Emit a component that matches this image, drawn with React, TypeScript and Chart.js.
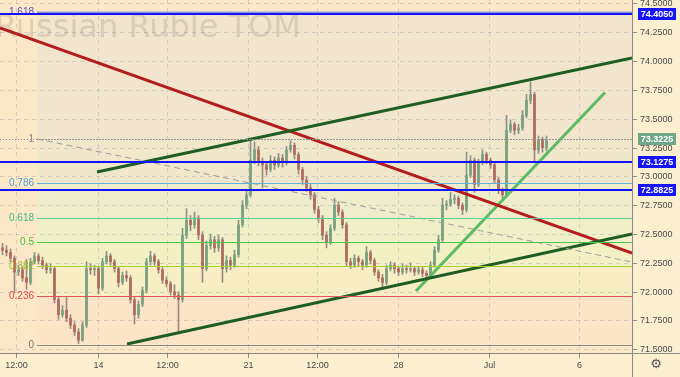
import React, { useEffect, useRef } from 'react';
import { Chart, registerables } from 'chart.js';

Chart.register(...registerables);

// ---- axis ticks ----
const xTickValues = [3.375, 23.775, 41.125, 61.375, 78.525, 98.875, 121.55, 144.125];
const xTickLabels = ['12:00', '14', '12:00', '21', '12:00', '28', 'Jul', '6'];
const yTickValues = [71.5, 71.75, 72, 72.25, 72.5, 72.75, 73, 73.25, 73.5, 73.75, 74, 74.25, 74.5];

// ---- candles (OHLC) ----
const opens = [
  72.38, 72.36, 72.34, 72.29, 72.17, 72.19, 72.12, 72.08, 72.26, 72.31, 72.27, 72.23, 72.19, 72.20, 71.93, 71.80, 71.84, 71.77, 71.71, 71.65, 71.58, 71.71, 72.20, 72.19, 72.20, 72.03, 72.26, 72.31,
  72.26, 72.20, 72.08, 72.14, 72.12, 71.93, 71.80, 71.89, 72.01, 72.26, 72.31, 72.26, 72.19, 72.10, 72.07, 72.00, 71.97, 71.93, 72.49, 72.62, 72.58, 72.64, 72.49, 72.20, 72.40, 72.45, 72.38,
  72.45, 72.20, 72.27, 72.23, 72.32, 72.58, 72.75, 72.84, 73.14, 73.23, 73.12, 73.10, 73.06, 73.14, 73.10, 73.16, 73.12, 73.23, 73.27, 73.19, 73.06, 72.97, 72.90, 72.84, 72.71, 72.64, 72.49, 72.43,
  72.55, 72.75, 72.69, 72.58, 72.26, 72.23, 72.29, 72.26, 72.23, 72.34, 72.27, 72.17, 72.12, 72.08, 72.20, 72.23, 72.20, 72.17, 72.20, 72.19, 72.20, 72.17, 72.19, 72.16, 72.14, 72.23, 72.36, 72.45,
  72.75, 72.76, 72.80, 72.81, 72.75, 72.71, 73.01, 73.14, 72.93, 73.12, 73.19, 73.14, 73.10, 72.97, 72.88, 72.84, 73.40, 73.45, 73.40, 73.42, 73.53, 73.66, 73.71, 73.23, 73.32, 73.25,
];
const highs = [
  72.42, 72.40, 72.37, 72.31, 72.23, 72.21, 72.28, 72.29, 72.34, 72.33, 72.30, 72.25, 72.24, 72.22, 71.96, 71.88, 71.95, 71.80, 71.74, 71.68, 71.74, 72.26, 72.24, 72.23, 72.22, 72.29, 72.35, 72.33,
  72.28, 72.22, 72.17, 72.18, 72.14, 71.95, 71.92, 72.04, 72.29, 72.35, 72.33, 72.28, 72.21, 72.13, 72.09, 72.06, 72.00, 72.55, 72.72, 72.66, 72.69, 72.66, 72.52, 72.44, 72.50, 72.48, 72.49,
  72.47, 72.31, 72.30, 72.36, 72.62, 72.79, 72.88, 73.32, 73.30, 73.26, 73.16, 73.13, 73.18, 73.17, 73.20, 73.19, 73.26, 73.31, 73.29, 73.21, 73.08, 73.00, 72.93, 72.86, 72.74, 72.66, 72.52, 72.58,
  72.81, 72.78, 72.71, 72.60, 72.29, 72.32, 72.31, 72.28, 72.39, 72.36, 72.29, 72.19, 72.15, 72.23, 72.26, 72.25, 72.22, 72.24, 72.23, 72.25, 72.22, 72.22, 72.21, 72.18, 72.26, 72.39, 72.49, 72.81,
  72.79, 72.86, 72.84, 72.83, 72.77, 73.21, 73.18, 73.16, 73.15, 73.23, 73.21, 73.16, 73.12, 72.99, 72.90, 73.53, 73.49, 73.47, 73.45, 73.57, 73.71, 73.82, 73.73, 73.35, 73.34, 73.35,
];
const lows = [
  72.32, 72.31, 72.26, 71.99, 72.14, 72.09, 72.02, 72.06, 72.24, 72.24, 72.20, 72.16, 72.16, 71.90, 71.76, 71.78, 71.74, 71.68, 71.62, 71.55, 71.57, 71.69, 72.15, 72.14, 71.98, 72.01, 72.24, 72.23,
  72.17, 72.04, 72.06, 72.09, 71.90, 71.72, 71.77, 71.87, 71.99, 72.23, 72.23, 72.16, 72.07, 72.04, 71.97, 71.94, 71.65, 71.91, 72.46, 72.53, 72.55, 72.45, 72.08, 72.18, 72.37, 72.34, 72.35,
  72.08, 72.17, 72.19, 72.21, 72.30, 72.56, 72.72, 72.82, 73.11, 73.09, 72.90, 73.01, 73.04, 73.06, 73.08, 73.08, 73.10, 73.21, 73.15, 73.02, 72.93, 72.87, 72.80, 72.68, 72.60, 72.45, 72.38, 72.41,
  72.53, 72.66, 72.55, 72.22, 72.20, 72.21, 72.22, 72.19, 72.21, 72.24, 72.14, 72.09, 72.04, 72.06, 72.18, 72.16, 72.14, 72.15, 72.16, 72.17, 72.14, 72.15, 72.13, 72.10, 72.12, 72.21, 72.34, 72.43,
  72.71, 72.74, 72.76, 72.72, 72.67, 72.69, 72.99, 72.86, 72.91, 73.10, 73.11, 73.07, 72.94, 72.85, 72.81, 72.82, 73.38, 73.36, 73.37, 73.40, 73.51, 73.63, 73.12, 73.20, 73.21, 73.22,
];
const closes = [
  72.36, 72.34, 72.29, 72.17, 72.19, 72.12, 72.08, 72.26, 72.31, 72.27, 72.23, 72.19, 72.20, 71.93, 71.80, 71.84, 71.77, 71.71, 71.65, 71.58, 71.71, 72.20, 72.19, 72.20, 72.03, 72.26, 72.31, 72.26,
  72.20, 72.08, 72.14, 72.12, 71.93, 71.80, 71.89, 72.01, 72.26, 72.31, 72.26, 72.19, 72.10, 72.07, 72.00, 71.97, 71.93, 72.49, 72.62, 72.58, 72.64, 72.49, 72.20, 72.40, 72.45, 72.38, 72.45,
  72.20, 72.27, 72.23, 72.32, 72.58, 72.75, 72.84, 73.14, 73.23, 73.12, 73.10, 73.06, 73.14, 73.10, 73.16, 73.12, 73.23, 73.27, 73.19, 73.06, 72.97, 72.90, 72.84, 72.71, 72.64, 72.49, 72.43, 72.55,
  72.75, 72.69, 72.58, 72.26, 72.23, 72.29, 72.26, 72.23, 72.34, 72.27, 72.17, 72.12, 72.08, 72.20, 72.23, 72.20, 72.17, 72.20, 72.19, 72.20, 72.17, 72.19, 72.16, 72.14, 72.23, 72.36, 72.45, 72.75,
  72.76, 72.80, 72.81, 72.75, 72.71, 73.01, 73.14, 72.93, 73.12, 73.19, 73.14, 73.10, 72.97, 72.88, 72.84, 73.40, 73.45, 73.40, 73.42, 73.53, 73.66, 73.71, 73.23, 73.32, 73.25, 73.3225,
];

// ---- Fibonacci retracement ----
const fibLevels = [0, 0.236, 0.382, 0.5, 0.618, 0.786, 1, 1.618];
const fibLabels = ['0', '0.236', '0.382', '0.5', '0.618', '0.786', '1', '1.618'];
const fibPrice0 = 71.537;
const fibPrice1 = 73.325;
const fibStartX = 8.625;

// ---- horizontal key levels ----
const keyLevels = [74.405, 73.1275, 72.8825];
const keyLevelLabels = ['74.4050', '73.1275', '72.8825'];
const lastPrice = 73.3225;
const lastPriceLabel = '73.3225';

// ---- trend lines (x in candle index units, y in price) ----
const upperChannel = [{ x: 23.625, y: 73.038 }, { x: 157.375, y: 74.027 }];
const lowerChannel = [{ x: 31.125, y: 71.546 }, { x: 157.375, y: 72.5 }];
const redTrend = [{ x: -0.625, y: 74.2875 }, { x: 157.375, y: 72.3355 }];
const greenTrend = [{ x: 103.375, y: 72.006 }, { x: 150.625, y: 73.728 }];
const dashedTrend = [{ x: 8.625, y: 73.325 }, { x: 157.375, y: 72.257 }];

const title = 'Russian Ruble TOM';

// ---- styles ----
const BG_AXES = '#fcefd0';
const BG_PLOT = '#fce8c6';
const fibBandColors = ['#fce4c6', '#f8eec4', '#f3f1c4', '#eff0c7', '#eeeccb', '#f1e8cc', '#f1e5cd'];
const fibLineColors = ['#8c8c8c', '#e05555', '#a6cf3c', '#4fc64f', '#5ccf9a', '#5fb0de', '#9a9a9a', '#9595dc'];
const fibTextColors = ['#777777', '#e04848', '#97c22a', '#3fbf3f', '#3cb98a', '#4a9fd8', '#888888', '#5050c8'];
const SMALL_FONT = '9px "Liberation Sans", Arial, sans-serif';
const FIB_FONT = '10px "Liberation Sans", Arial, sans-serif';

const decorPlugin = {
  id: 'decor',
  beforeDraw(chart: any) {
    const { ctx, chartArea: a, scales } = chart;
    const x = scales.x, y = scales.y;
    const W = chart.width, H = chart.height;
    ctx.save();
    ctx.fillStyle = BG_AXES;
    ctx.fillRect(0, 0, W, H);
    ctx.fillStyle = BG_PLOT;
    ctx.fillRect(a.left, a.top, a.right - a.left, a.bottom - a.top);
    const fx = x.getPixelForValue(fibStartX);
    const lp = (l: number) => fibPrice0 + l * (fibPrice1 - fibPrice0);
    for (let k = 0; k < fibLevels.length - 1; k++) {
      const y0 = y.getPixelForValue(lp(fibLevels[k]));
      const y1 = y.getPixelForValue(lp(fibLevels[k + 1]));
      ctx.fillStyle = fibBandColors[k];
      ctx.fillRect(fx, y1, a.right - fx, y0 - y1);
    }
    // dashed grid
    ctx.strokeStyle = 'rgba(150,150,175,0.35)';
    ctx.lineWidth = 1;
    ctx.setLineDash([4, 4]);
    yTickValues.forEach((v) => {
      const py = Math.round(y.getPixelForValue(v)) + 0.5;
      ctx.beginPath(); ctx.moveTo(a.left, py); ctx.lineTo(a.right, py); ctx.stroke();
    });
    xTickValues.forEach((v) => {
      const px = Math.round(x.getPixelForValue(v)) + 0.5;
      ctx.beginPath(); ctx.moveTo(px, a.top); ctx.lineTo(px, a.bottom); ctx.stroke();
    });
    ctx.setLineDash([]);
    // watermark
    ctx.font = '32px "DejaVu Sans", sans-serif';
    ctx.fillStyle = 'rgba(110,100,90,0.19)';
    ctx.textBaseline = 'alphabetic';
    ctx.textAlign = 'left';
    ctx.fillText(title, -5, 37);
    ctx.restore();
  },
  afterDatasetsDraw(chart: any) {
    const { ctx, chartArea: a, scales } = chart;
    const x = scales.x, y = scales.y;
    const W = chart.width, H = chart.height;
    const lp = (l: number) => fibPrice0 + l * (fibPrice1 - fibPrice0);
    const fx = x.getPixelForValue(fibStartX);
    ctx.save();
    // fib lines + labels
    fibLevels.forEach((l, k) => {
      const py = Math.round(y.getPixelForValue(lp(l))) + 0.5;
      ctx.strokeStyle = fibLineColors[k];
      ctx.lineWidth = l === 1.618 ? 2 : 1;
      ctx.setLineDash(l === 1 ? [1, 2] : []);
      ctx.beginPath(); ctx.moveTo(fx, py); ctx.lineTo(a.right, py); ctx.stroke();
      ctx.setLineDash([]);
      ctx.font = FIB_FONT;
      ctx.fillStyle = fibTextColors[k];
      ctx.textAlign = 'right';
      ctx.textBaseline = 'middle';
      ctx.fillText(fibLabels[k], fx - 3, py);
    });
    // last price dotted line
    const lpY = Math.round(y.getPixelForValue(lastPrice)) + 0.5;
    ctx.strokeStyle = '#8a8a8a';
    ctx.lineWidth = 1;
    ctx.setLineDash([1, 2]);
    ctx.beginPath(); ctx.moveTo(a.left, lpY); ctx.lineTo(a.right, lpY); ctx.stroke();
    ctx.setLineDash([]);
    // key blue levels
    ctx.strokeStyle = '#1414ff';
    ctx.lineWidth = 2;
    keyLevels.forEach((v) => {
      const py = Math.round(y.getPixelForValue(v));
      ctx.beginPath(); ctx.moveTo(a.left, py); ctx.lineTo(a.right, py); ctx.stroke();
    });
    // axis lines
    ctx.strokeStyle = '#8a8a8a';
    ctx.lineWidth = 1;
    ctx.beginPath(); ctx.moveTo(a.right + 0.5, 0); ctx.lineTo(a.right + 0.5, H); ctx.stroke();
    ctx.beginPath(); ctx.moveTo(0, a.bottom + 0.5); ctx.lineTo(W, a.bottom + 0.5); ctx.stroke();
    // y ticks + labels
    ctx.font = SMALL_FONT;
    ctx.fillStyle = '#4a4a4a';
    ctx.textAlign = 'left';
    ctx.textBaseline = 'middle';
    yTickValues.forEach((v) => {
      const py = Math.round(y.getPixelForValue(v)) + 0.5;
      ctx.beginPath(); ctx.moveTo(a.right + 1, py); ctx.lineTo(a.right + 5, py); ctx.stroke();
      ctx.fillText(v.toFixed(4), a.right + 8, py);
    });
    // x ticks + labels
    ctx.textAlign = 'center';
    xTickValues.forEach((v, i) => {
      const px = Math.round(x.getPixelForValue(v)) + 0.5;
      ctx.beginPath(); ctx.moveTo(px, a.bottom + 1); ctx.lineTo(px, a.bottom + 5); ctx.stroke();
      ctx.fillText(xTickLabels[i], px, a.bottom + 13);
    });
    // price label boxes
    const box = (v: number, text: string, color: string) => {
      const py = y.getPixelForValue(v);
      ctx.fillStyle = color;
      ctx.fillRect(a.right + 6, Math.round(py) - 6, 38, 12);
      ctx.fillStyle = '#ffffff';
      ctx.font = 'bold ' + SMALL_FONT;
      ctx.textAlign = 'center';
      ctx.textBaseline = 'middle';
      ctx.fillText(text, a.right + 25, Math.round(py) + 0.5);
    };
    keyLevels.forEach((v, i) => box(v, keyLevelLabels[i], '#1414ff'));
    box(lastPrice, lastPriceLabel, '#6ea888');
    // gear icon
    ctx.fillStyle = '#555555';
    ctx.font = '13px "DejaVu Sans", sans-serif';
    ctx.textAlign = 'center';
    ctx.textBaseline = 'middle';
    ctx.fillText('\u2699', a.right + 24, a.bottom + 12);
    ctx.restore();
  },
};

export default function App() {
  const ref = useRef<HTMLCanvasElement | null>(null);
  useEffect(() => {
    if (!ref.current) return;
    const idx = closes.map((_, i) => i);
    const up = idx.map((i) => closes[i] >= opens[i]);
    const lineDs = (data: any[], color: string, width: number, dash: number[] = []) => ({
      type: 'line' as const,
      data,
      borderColor: color,
      borderWidth: width,
      borderDash: dash,
      pointRadius: 0,
      fill: false,
      tension: 0,
      order: 1,
    });
    const chart = new Chart(ref.current, {
      type: 'bar',
      data: {
        datasets: [
          {
            type: 'bar',
            data: idx.map((i) => ({ x: i, y: [lows[i], highs[i]] })) as any,
            backgroundColor: idx.map((i) => (up[i] ? '#87968a' : '#9c8a82')),
            barThickness: 1,
            grouped: false,
            order: 11,
          } as any,
          {
            type: 'bar',
            data: idx.map((i) => ({ x: i, y: [opens[i], closes[i]] })) as any,
            backgroundColor: idx.map((i) => (up[i] ? '#78a07e' : '#b0675c')),
            barThickness: 2,
            minBarLength: 1,
            grouped: false,
            order: 10,
          } as any,
          lineDs(dashedTrend, '#9e9e9e', 1, [6, 4]),
          lineDs(upperChannel, '#1e5e22', 3),
          lineDs(lowerChannel, '#1e5e22', 3),
          lineDs(redTrend, '#b31d1d', 3),
          lineDs(greenTrend, '#5dbb63', 3),
        ],
      },
      options: {
        animation: false,
        responsive: false,
        devicePixelRatio: 1,
        events: [],
        layout: { padding: 0 },
        plugins: { legend: { display: false }, tooltip: { enabled: false } },
        scales: {
          x: {
            type: 'linear',
            min: -0.625,
            max: 157.375,
            offset: false,
            grid: { display: false },
            border: { display: false },
            ticks: { display: false },
            afterFit: (s: any) => { s.height = 24; },
          },
          y: {
            type: 'linear',
            position: 'right',
            min: 71.468,
            max: 74.53,
            grid: { display: false },
            border: { display: false },
            ticks: { display: false },
            afterFit: (s: any) => { s.width = 48; },
          },
        },
      } as any,
      plugins: [decorPlugin],
    });
    return () => chart.destroy();
  }, []);
  return (
    <div style={{ position: 'absolute', left: 0, top: 0, width: 680, height: 377 }}>
      <canvas ref={ref} width={680} height={377} style={{ display: 'block' }} />
    </div>
  );
}
